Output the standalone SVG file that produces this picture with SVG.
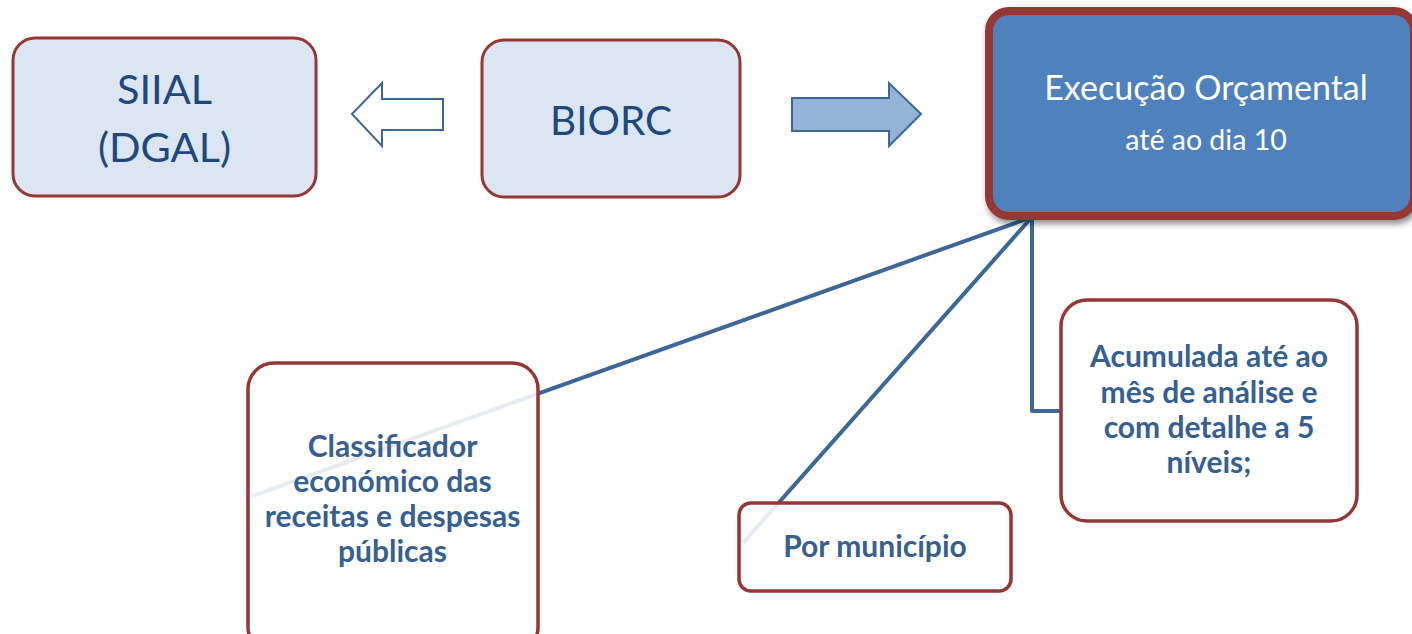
<svg xmlns="http://www.w3.org/2000/svg" width="1412" height="634" viewBox="0 0 1412 634">
  <defs>
    <filter id="shadow" x="-10%" y="-10%" width="130%" height="130%">
      <feGaussianBlur in="SourceAlpha" stdDeviation="3"/>
      <feOffset dx="2" dy="4" result="b"/>
      <feComponentTransfer><feFuncA type="linear" slope="0.45"/></feComponentTransfer>
      <feMerge><feMergeNode/><feMergeNode in="SourceGraphic"/></feMerge>
    </filter>
  </defs>
  <style>
    .light { fill: #dce6f2; stroke: #953735; stroke-width: 3; }
    .white { fill: #ffffff; fill-opacity: 0.88; stroke: #953735; stroke-width: 3.5; }
    .big { font-family: Lato, "Open Sans", sans-serif; fill: #1f497d; text-anchor: middle; }
    .bold { font-family: Lato, "Open Sans", sans-serif; font-weight: bold; fill: #376092; text-anchor: middle; font-size: 30px; }
    .wtxt { font-family: Lato, "Open Sans", sans-serif; fill: #ffffff; text-anchor: middle; }
    .conn { fill: none; stroke: #3d6797; stroke-width: 4; stroke-linejoin: round; }
    .arrow { stroke: #3d6797; stroke-width: 2; }
  </style>
  <rect width="1412" height="634" fill="#ffffff"/>

  <g id="connectors">
    <line class="conn" x1="1032" y1="217" x2="252" y2="496"/>
    <line class="conn" x1="1032" y1="217" x2="743" y2="543"/>
    <polyline class="conn" points="1032,217 1032,411 1062,411"/>
  </g>

  <g id="arrow-left">
    <polygon class="arrow" fill="#ffffff" points="352,114 382,83 382,99 443,99 443,130 382,130 382,146"/>
  </g>
  <g id="arrow-right">
    <polygon class="arrow" fill="#95b3d7" points="921,114 889,83 889,98 792,98 792,131 889,131 889,146"/>
  </g>

  <g id="siial">
    <rect class="light" x="13" y="38" width="303" height="158" rx="22"/>
    <text class="big" font-size="41.5" x="164.5" y="104">SIIAL</text>
    <text class="big" font-size="41.5" x="164.5" y="162">(DGAL)</text>
  </g>

  <g id="biorc">
    <rect class="light" x="482" y="40" width="258" height="157" rx="22"/>
    <text class="big" font-size="40.5" x="611" y="135">BIORC</text>
  </g>

  <g id="execucao">
    <rect x="989" y="11" width="425" height="205" rx="20" fill="#4f81bd" stroke="#953735" stroke-width="8" filter="url(#shadow)"/>
    <text class="wtxt" font-size="34" x="1206" y="100">Execução Orçamental</text>
    <text class="wtxt" font-size="28.5" x="1206" y="150">até ao dia 10</text>
  </g>

  <g id="classificador">
    <rect class="white" x="248" y="363" width="290" height="290" rx="26"/>
    <text class="bold" x="392.5" y="457">Classificador</text>
    <text class="bold" x="392.5" y="492">económico das</text>
    <text class="bold" x="392.5" y="527">receitas e despesas</text>
    <text class="bold" x="392.5" y="562">públicas</text>
  </g>

  <g id="municipio">
    <rect class="white" x="739" y="503" width="272" height="88" rx="12"/>
    <text class="bold" x="875" y="557">Por município</text>
  </g>

  <g id="acumulada">
    <rect class="white" x="1061" y="300" width="296" height="221" rx="26"/>
    <text class="bold" x="1209" y="367">Acumulada até ao</text>
    <text class="bold" x="1209" y="403">mês de análise e</text>
    <text class="bold" x="1209" y="438">com detalhe a 5</text>
    <text class="bold" x="1209" y="473">níveis;</text>
  </g>
</svg>
